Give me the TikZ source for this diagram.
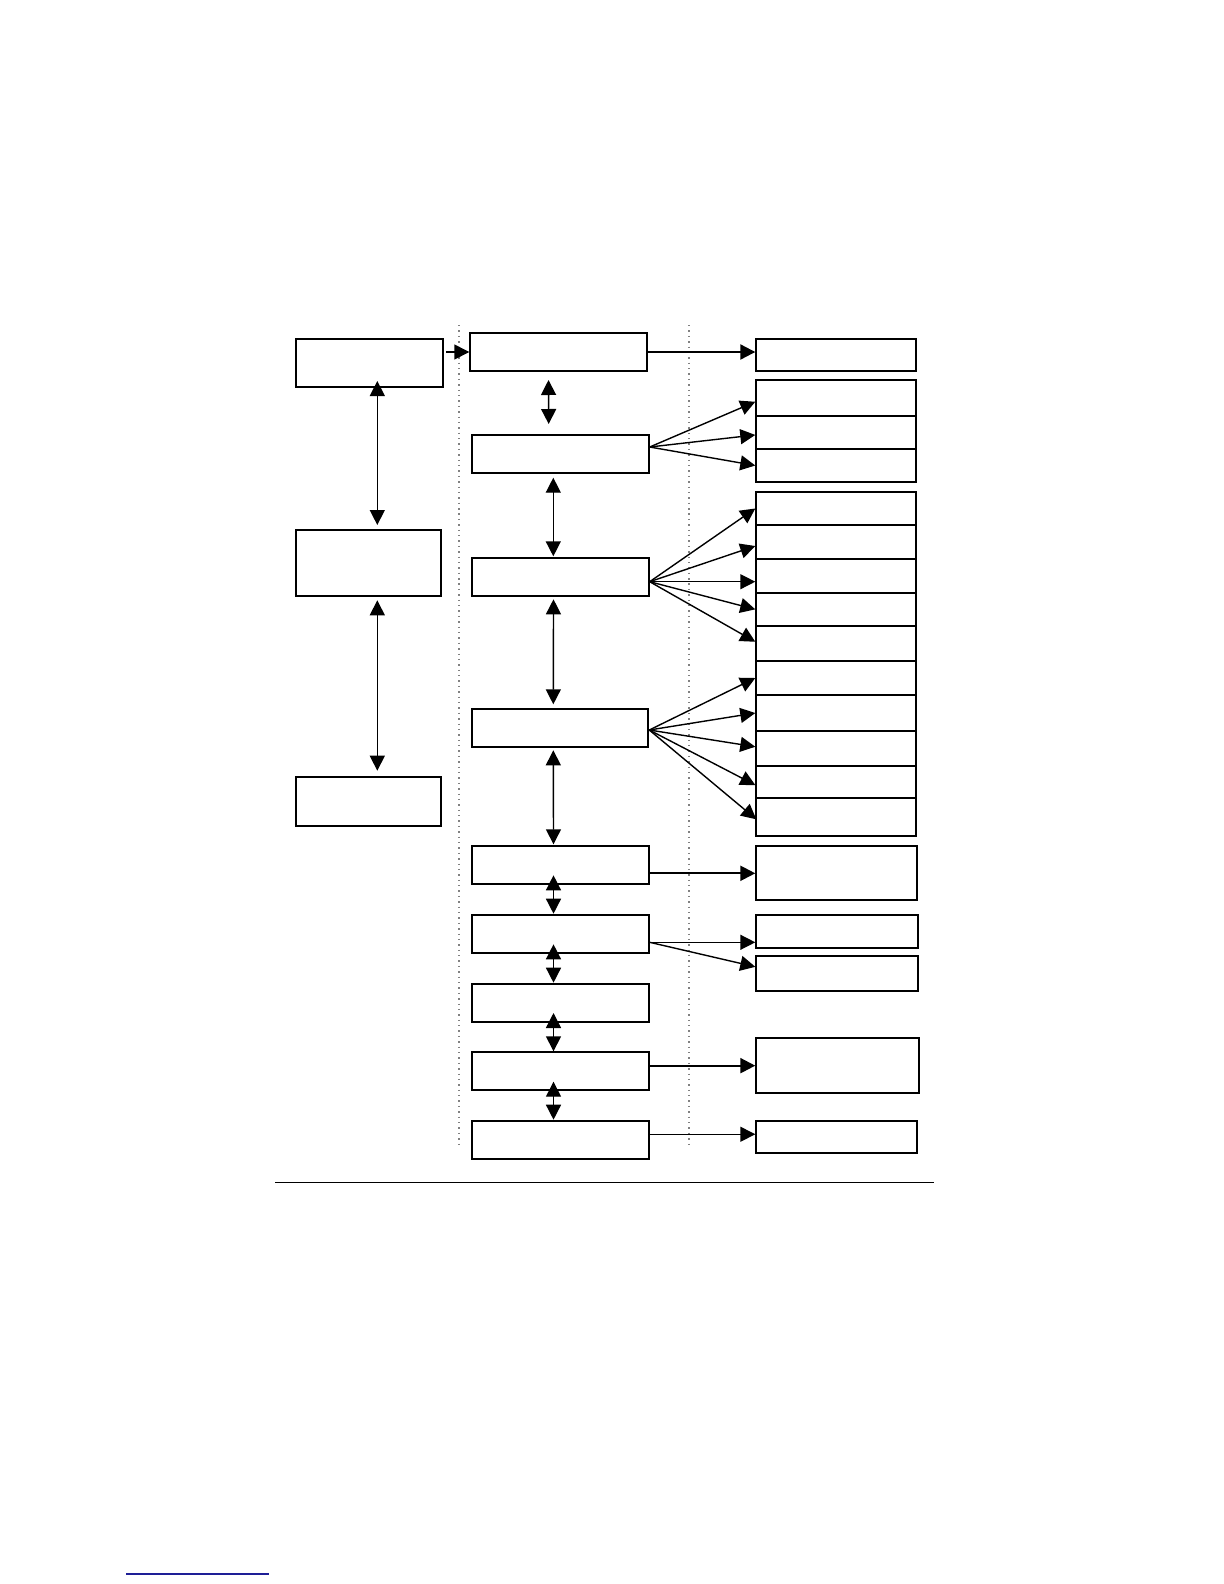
\documentclass[tikz,border=0pt]{standalone}
\usetikzlibrary{arrows.meta,fit,calc}
\definecolor{linkblue}{RGB}{30,30,150}
\begin{document}
\begin{tikzpicture}[x=0.5bp,y=-0.5bp,
  box/.style={draw,line width=1bp,inner sep=0pt},
  arr/.style={line width=0.7bp,-{Triangle[length=7.5bp,width=7.5bp]}},
  boldarr/.style={line width=1.1bp,-{Triangle[length=7.5bp,width=7.5bp]}},
  dbl/.style={line width=0.7bp,{Triangle[length=7.5bp,width=7.5bp]}-{Triangle[length=7.5bp,width=7.5bp]}},
  sepline/.style={draw=gray,dotted,line width=0.7bp}]
\useasboundingbox (0,0) rectangle (1224,1584);
% separators
\coordinate (s1t) at (459,325); \coordinate (s1b) at (459,1148);
\coordinate (s2t) at (689,325); \coordinate (s2b) at (689,1148);
\draw[sepline] (s1t) -- (s1b);
\draw[sepline] (s2t) -- (s2b);
% left column
\node[box,fit={(295.7,338.7) (443.3,387.3)}] (L1) {};
\node[box,fit={(295.7,530.3) (440.7,595.7)}] (L2) {};
\node[box,fit={(295.7,777.3) (440.7,826)}] (L3) {};
% middle column
\node[box,fit={(470.3,332.7) (646.7,371.3)}] (M1) {};
\node[box,fit={(472.3,435) (648.7,473)}] (M2) {};
\node[box,fit={(472.3,558.3) (648.7,596.3)}] (M3) {};
\node[box,fit={(472.3,709.3) (648.3,747.3)}] (M4) {};
\node[box,fit={(472.3,846.3) (648.7,884.3)}] (M5) {};
\node[box,fit={(472.3,914.7) (648.7,953.3)}] (M6) {};
\node[box,fit={(472.3,983.7) (648.7,1022)}] (M7) {};
\node[box,fit={(472.3,1052.3) (648.7,1090.3)}] (M8) {};
\node[box,fit={(472.3,1120.7) (648.7,1159)}] (M9) {};
% right column
\node[box,fit={(756.3,338.7) (916.3,371.3)}] (R1) {};
\node[box,fit={(756.3,379.7) (916.3,416)}] (R2a) {};
\node[box,fit={(756.3,416) (916.3,448.7)}] (R2b) {};
\node[box,fit={(756.3,448.7) (916.3,482.3)}] (R2c) {};
\node[box,fit={(756.3,491.7) (916.3,525.3)}] (R3a) {};
\node[box,fit={(756.3,525.3) (916.3,558.7)}] (R3b) {};
\node[box,fit={(756.3,558.7) (916.3,592.7)}] (R3c) {};
\node[box,fit={(756.3,592.7) (916.3,626)}] (R3d) {};
\node[box,fit={(756.3,626) (916.3,660.7)}] (R3e) {};
\node[box,fit={(756.3,660.7) (916.3,695.3)}] (R4a) {};
\node[box,fit={(756.3,695.3) (916.3,730.7)}] (R4b) {};
\node[box,fit={(756.3,730.7) (916.3,766)}] (R4c) {};
\node[box,fit={(756.3,766) (916.3,797.7)}] (R4d) {};
\node[box,fit={(756.3,797.7) (916.3,836.3)}] (R4e) {};
\node[box,fit={(756.3,846.3) (916.7,900.3)}] (R5) {};
\node[box,fit={(756.3,915) (918.3,948)}] (R6a) {};
\node[box,fit={(756.3,956.3) (918.3,991.3)}] (R6b) {};
\node[box,fit={(756.3,1038.3) (919.3,1093)}] (R8) {};
\node[box,fit={(756.3,1120.7) (916.7,1153.3)}] (R9) {};
% left connectors
\draw[arr] ([shift={(2,0)}]L1.east |- M1.west) -- (M1.west);
\draw[dbl] ([shift={(7.8,-7.3)}]L1.south) -- ([shift={(9.1,-4.3)}]L2.north);
\draw[dbl] ([shift={(9.1,3.6)}]L2.south) -- ([shift={(9.1,-5.6)}]L3.north);
% middle column double arrows
\draw[dbl] ([shift={(-10,7.7)}]M1.south) -- ([shift={(-11.8,-10)}]M2.north);
\draw[dbl] ([shift={(-7.2,3.7)}]M2.south) -- ([shift={(-7.2,-1)}]M3.north);
\draw[dbl] ([shift={(-7,2)}]M3.south) -- ([shift={(-7,-4)}]M4.north);
\draw[dbl] ([shift={(-7,2)}]M4.south) -- ([shift={(-7,-1)}]M5.north);
\draw[dbl] ([shift={(-7,-10)}]M5.south) -- ([shift={(-7,0)}]M6.north);
\draw[dbl] ([shift={(-7,-10)}]M6.south) -- ([shift={(-7,0)}]M7.north);
\draw[dbl] ([shift={(-7,-10)}]M7.south) -- ([shift={(-7,0)}]M8.north);
\draw[dbl] ([shift={(-7,-9.6)}]M8.south) -- ([shift={(-7,0)}]M9.north);
% right connectors
\draw[boldarr] (M1.east) -- (M1.east -| R1.west);
\coordinate (o2) at ([shift={(0,-7)}]M2.east);
\draw[arr] (o2) -- ([shift={(0,3.9)}]R2a.west);
\draw[arr] (o2) -- ([shift={(0,2.6)}]R2b.west);
\draw[arr] (o2) -- (R2c.west);
\coordinate (o3) at ([shift={(0,4.4)}]M3.east);
\draw[arr] (o3) -- (R3a.west);
\draw[arr] (o3) -- ([shift={(0,4)}]R3b.west);
\draw[arr] (o3) -- ([shift={(0,6)}]R3c.west);
\draw[arr] (o3) -- (R3d.west);
\draw[arr] (o3) -- ([shift={(0,-1.6)}]R3e.west);
\coordinate (o4) at ([shift={(0,1.7)}]M4.east);
\draw[arr] (o4) -- (R4a.west);
\draw[arr] (o4) -- (R4b.west);
\draw[arr] (o4) -- ([shift={(0,-1.6)}]R4c.west);
\draw[arr] (o4) -- ([shift={(0,3.2)}]R4d.west);
\draw[arr] (o4) -- ([shift={(1,2.3)}]R4e.west);
\draw[boldarr] (M5.east |- R5.west) -- (R5.west);
\coordinate (o6) at ([shift={(0,8.3)}]M6.east);
\draw[arr] (o6) -- ([shift={(0,10.8)}]R6a.west);
\draw[arr] (o6) -- ([shift={(0,-7)}]R6b.west);
\draw[boldarr] (M8.east |- R8.west) -- (R8.west);
\coordinate (o9) at ([shift={(0,-5.6)}]M9.east);
\draw[arr] (o9) -- (o9 -| R9.west);
% rule and footnote link line
\coordinate (h1) at (275,1182.3); \coordinate (h2) at (934,1182.3);
\draw[line width=0.8bp] (h1) -- (h2);
\coordinate (b1) at (126,1574); \coordinate (b2) at (269,1574);
\draw[linkblue,line width=0.8bp] (b1) -- (b2);
\end{tikzpicture}
\end{document}
